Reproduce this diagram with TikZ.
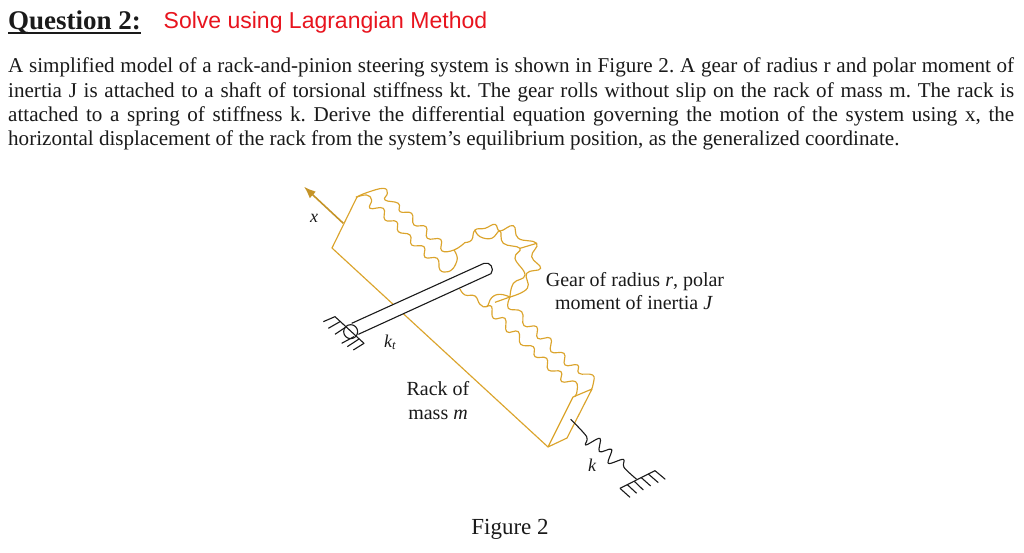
\documentclass[tikz,border=0pt]{standalone}
\usepackage{fontspec}
\usetikzlibrary{arrows.meta}
\setmainfont{Liberation Serif}
\newfontfamily\sansfam{Liberation Sans}
\definecolor{gold}{HTML}{DBA42C}
\definecolor{ink}{HTML}{1A1A1A}
\definecolor{redtxt}{HTML}{E8141E}
\frenchspacing
\tikzset{
  rackline/.style={draw=gold,line width=1.15pt,line join=round},
  blackline/.style={draw=ink,line width=1.1pt,line join=round},
  curved/.style={smooth,tension=0.75},
  bodytext/.style={anchor=base west,inner sep=0pt,font=\fontsize{21.1}{24}\selectfont,text=ink},
  figtext/.style={anchor=base,inner sep=0pt,font=\fontsize{20}{22}\selectfont,text=ink},
  zoomA/.style={shift={(290,175)},x=0.3333pt,y=-0.3333pt},
  zoomB/.style={shift={(440,320)},x=0.3333pt,y=-0.3333pt},
  cropT/.style={shift={(350,180)},x=0.3333pt,y=-0.3333pt},
  cropG/.style={shift={(450,215)},x=0.3333pt,y=-0.3333pt},
  cropR/.style={shift={(455,285)},x=0.3333pt,y=-0.3333pt},
  cropW/.style={shift={(440,215)},x=0.3333pt,y=-0.3333pt},
}
\newcommand{\jline}[1]{\makebox[1006pt][s]{#1}}
\begin{document}
\begin{tikzpicture}[x=1pt,y=-1pt]
\useasboundingbox (0,0) rectangle (1024,552);
\fill[white] (0,0) rectangle (1024,552);
% header
\node[anchor=base west,inner sep=0pt,font=\fontsize{27}{30}\selectfont\bfseries,text=ink] (title) at (8,29) {Question 2:};
\draw[ink,line width=2pt] ([yshift=-4pt]title.base west) -- ([yshift=-4pt]title.base east);
\node[anchor=base west,inner sep=0pt,font=\fontsize{23}{26}\selectfont\sansfam,text=redtxt] (subtitle) at (163.5,28) {Solve using Lagrangian Method};
% body
\node[bodytext] (l1) at (8,72) {\jline{A simplified model of a rack-and-pinion steering system is shown in Figure 2. A gear of radius r and polar moment of}};
\node[bodytext] (l2) at (8,97) {\jline{inertia J is attached to a shaft of torsional stiffness kt. The gear rolls without slip on the rack of mass m. The rack is}};
\node[bodytext] (l3) at (8,121) {\jline{attached to a spring of stiffness k. Derive the differential equation governing the motion of the system using x, the}};
\node[bodytext] (l4) at (8,145) {horizontal displacement of the rack from the system’s equilibrium position, as the generalized coordinate.};
% rack body
\draw[rackline] (357,197) -- (332,248) -- (548,447) -- (573,397) -- (592,389) -- (567,438) -- (548,447);
% rack teeth, upper part
\begin{scope}[cropT]
\draw[rackline] plot[curved] coordinates {(18,52) (50,38) (100,25) (112,40) (105,60) (145,70) (150,95) (185,100) (192,135) (228,140) (232,175) (272,178) (275,212) (312,210) (345,187.5)};
\draw[rackline] plot[curved] coordinates {(18,52) (50,45) (65,60) (60,85) (100,85) (105,120) (140,125) (145,155) (180,165) (185,195) (222,200) (225,232) (262,235) (270,270) (295,275) (312,262)};
\draw[rackline] plot[curved] coordinates {(312,210) (322,235) (312,262)};
\end{scope}
% gear
\begin{scope}[cropG]
\draw[rackline] plot[curved] coordinates {(45,82.5) (65,75) (75,45) (105,40) (135,28) (150,48) (190,32) (205,70) (260,85) (245,125) (272,160) (230,175) (232,220) (180,246)};
\draw[rackline] plot[curved] coordinates {(75,45) (90,65) (125,70) (150,48) (160,85) (210,100) (195,130) (225,180) (190,205) (180,246)};
\draw[rackline] (210,100) -- (260,85);
\end{scope}
% gear underside, next to the rack
\begin{scope}[cropW]
\draw[rackline] plot[curved] coordinates {(60,222) (75,240) (105,243) (120,268) (140,275) (155,248) (180,238) (210,246)};
\draw[rackline] (210,246) -- (165,262);
\end{scope}
% rack teeth, lower part
\begin{scope}[cropR]
\draw[rackline] plot[curved] coordinates {(165,36) (160,70) (200,80) (207,122) (245,125) (248,160) (287,160) (288,200) (327,205) (330,240) (368,240) (372,265) (413,270) (415,295) (410,312)};
\draw[rackline] plot[curved] coordinates {(95,65) (110,65) (115,100) (150,100) (155,140) (190,140) (197,178) (235,185) (240,215) (275,220) (280,255) (318,260) (320,290) (362,290) (365,325) (357,335)};
\end{scope}
\begin{scope}[zoomA]
% x arrow
\coordinate (xbase) at (160,145);
\coordinate (xtip) at (42,35);
\draw[draw=gold!90!black,line width=1.6pt,-{Latex[length=12pt,width=9pt]}] (xbase) -- (xtip);
% shaft
\draw[blackline,fill=white] (185,445) -- (582,265) .. controls (600,258) and (615,282) .. (603,296) -- (205,478);
% pivot and wall
\node[circle,draw=ink,fill=white,line width=1.1pt,minimum size=14pt,inner sep=0pt] (pivot) at (182,470) {};
\draw[blackline] (100,440) -- (135,425) -- (222,505) -- (190,525);
\draw[blackline] (150,440) -- (115,460);
\draw[blackline] (165,458) -- (135,478);
\draw[blackline] (192,485) -- (155,505);
\draw[blackline] (207,492) -- (172,515);
\end{scope}
% spring k and ground
\begin{scope}[zoomB]
\draw[blackline] plot[smooth,tension=0.55] coordinates {(392,298) (440,350) (437,375) (480,355) (478,395) (515,388) (505,430) (550,418) (552,442) (590,478)};
\draw[blackline] (540,505) -- (645,452);
\draw[blackline] (540,505) -- (570,532);
\draw[blackline] (562,494) -- (590,520);
\draw[blackline] (583,484) -- (610,510);
\draw[blackline] (604,473) -- (632,498);
\draw[blackline] (625,462) -- (655,488);
\draw[blackline] (645,452) -- (676,478);
\end{scope}
% labels
\node[figtext] (gear1) at (635,286) {Gear of radius \textit{r}, polar};
\node[figtext] (gear2) at (634,309) {moment of inertia \textit{J}};
\node[figtext] (rack1) at (438,395) {Rack of};
\node[figtext] (rack2) at (438,419) {mass \textit{m}};
\node[anchor=base,inner sep=0pt,font=\fontsize{23}{26}\selectfont,text=ink] (fig) at (510,534) {Figure 2};
\node[figtext,font=\fontsize{18}{20}\selectfont\itshape] (xlabel) at (314,222) {x};
\node[figtext,font=\fontsize{18}{20}\selectfont\itshape] (ktlabel) at (390,347) {k\textsubscript{t}};
\node[figtext,font=\fontsize{18}{20}\selectfont\itshape] (klabel) at (592,471) {k};
\end{tikzpicture}
\end{document}
